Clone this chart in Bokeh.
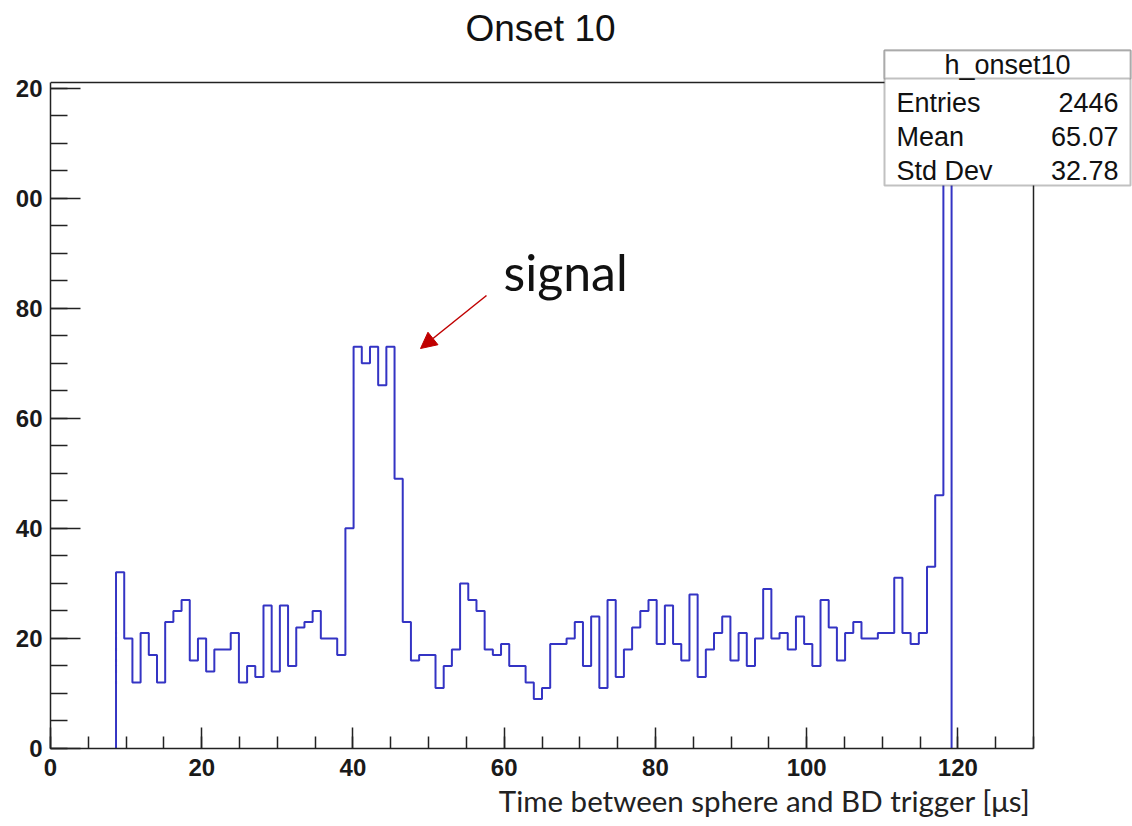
import numpy as np
from bokeh.plotting import figure
from bokeh.models import Range1d, FixedTicker, Label, BoxAnnotation, Arrow, NormalHead, Title
from bokeh.embed import file_html
from bokeh.resources import INLINE

# ---------------- data ----------------
n_bins = 120
x_min, x_max = 0.0, 130.0
y_max = 121.0
counts = ([0] * 8 +
          [32, 20, 12, 21, 17, 12, 23, 25, 27, 16, 20, 14, 18, 18, 21, 12, 15, 13, 26, 14] +
          [26, 15, 22, 23, 25, 20, 20, 17, 40, 73, 70, 73, 66, 73, 49, 23, 16, 17, 17, 11, 15] +
          [18, 30, 27, 25, 18, 17, 19, 15, 15, 12, 9, 11, 19, 19, 20, 23, 15, 24, 11, 27, 13] +
          [18, 22, 25, 27, 19, 26, 19, 16, 28, 13, 18, 21, 24, 16, 21, 15, 20, 29, 20, 21, 18] +
          [24, 19, 15, 27, 22, 16, 21, 23, 20, 20, 21, 21, 31, 21, 19, 21, 33, 46, 116] +
          [0] * 10)
x_ticks = [0, 20, 40, 60, 80, 100, 120]
x_minor = list(range(0, 131, 5))
y_ticks = [0, 20, 40, 60, 80, 100, 120]
y_tick_labels = ["0", "20", "40", "60", "80", "00", "20"]
y_minor = list(range(0, 121, 5))
hist_name = "h_onset10"
stat_names = ["Entries", "Mean", "Std Dev"]
stat_values = ["2446", "65.07", "32.78"]
title_text = "Onset 10"
x_title = "Time between sphere and BD trigger [\u03bcs]"
note_text = "signal"

# ---------------- geometry ----------------
W, H = 1132, 826
FL, FR, FT, FB = 50, 1033, 82, 748      # visible ROOT frame
PX_X = (FR - FL) / (x_max - x_min)
PX_Y = (FB - FT) / y_max

def dx(px):
    return x_min + (px - FL) / PX_X

def dy(py):
    return (FB - py) / PX_Y

# bokeh frame spans the whole canvas to the right and top, so the stats box and title fit inside
p = figure(width=W, height=H, x_range=Range1d(x_min, dx(W)), y_range=Range1d(0, dy(0)),
           output_backend="svg", toolbar_location=None,
           min_border_left=FL, min_border_right=0, min_border_top=0, min_border_bottom=H - FB)
p.background_fill_color = "white"
p.border_fill_color = "white"
p.outline_line_color = None
p.xgrid.visible = False
p.ygrid.visible = False

axis_color = "#222222"
for ax in (p.xaxis[0], p.yaxis[0]):
    ax.axis_line_color = axis_color
    ax.axis_line_width = 1.5
    ax.major_tick_line_color = axis_color
    ax.minor_tick_line_color = axis_color
    ax.major_tick_line_width = 1.5
    ax.minor_tick_line_width = 1.5
    ax.major_tick_out = 0
    ax.minor_tick_out = 0
    ax.major_label_text_font = "Liberation Sans"
    ax.major_label_text_font_size = "24px"
    ax.major_label_text_font_style = "bold"
    ax.major_label_text_color = "#1a1a1a"
    ax.major_label_standoff = 8

p.xaxis[0].bounds = (x_min, x_max)
p.xaxis[0].ticker = FixedTicker(ticks=x_ticks, minor_ticks=x_minor)
p.xaxis[0].major_tick_in = 21
p.xaxis[0].minor_tick_in = 12
p.xaxis[0].major_label_standoff = 10
p.yaxis[0].bounds = (0, y_max)
p.yaxis[0].ticker = FixedTicker(ticks=y_ticks, minor_ticks=y_minor)
p.yaxis[0].major_tick_in = 30
p.yaxis[0].minor_tick_in = 17
p.yaxis[0].major_label_overrides = {t: s for t, s in zip(y_ticks, y_tick_labels)}

# x axis title, right-aligned at the end of the ROOT frame
p.add_layout(Title(text=x_title, align="right", offset=W - 1030, standoff=8,
                   vertical_align="top",
                   text_font="Lato", text_font_style="normal", text_font_size="29.5px",
                   text_color="#222222"), "below")

# ---------------- frame lines (top and right of ROOT pad frame) ----------------
p.line(x=[x_min, x_max, x_max], y=[y_max, y_max, 0],
       line_color=axis_color, line_width=1.5)

# ---------------- histogram outline ----------------
edges = np.linspace(x_min, x_max, n_bins + 1)
nz = [i for i, c in enumerate(counts) if c > 0]
i0, i1 = nz[0], nz[-1]
sx = [edges[i0]] + list(edges[i0:i1 + 2])
sy = [0] + counts[i0:i1 + 1] + [0]
p.step(x=sx, y=sy, mode="after", line_color="#3434c4", line_width=2)

# ---------------- title ----------------
p.add_layout(Label(x=dx(540), y=dy(28), text=title_text, text_align="center",
                   text_baseline="middle", text_font="Liberation Sans", text_font_size="37px",
                   text_color="#111111"))

# ---------------- annotation ----------------
p.add_layout(Label(x=dx(503), y=dy(271), text=note_text, text_align="left",
                   text_baseline="middle", text_font="Lato", text_font_size="50px",
                   text_color="#111111"))
p.add_layout(Arrow(x_start=dx(486), y_start=dy(295), x_end=dx(420), y_end=dy(348),
                   line_color="#c00000", line_width=1.5,
                   end=NormalHead(size=16, fill_color="#c00000", line_color="#c00000")))

# ---------------- stats box ----------------
SL, SR, ST, SB, SH = 884, 1130, 50, 185, 78
p.add_layout(BoxAnnotation(left=dx(SL), right=dx(SR), top=dy(ST), bottom=dy(SB),
                           fill_color="white", fill_alpha=1.0, line_color="#333333", line_width=2,
                           level="overlay"))
p.add_layout(BoxAnnotation(left=dx(SL), right=dx(SR), top=dy(ST), bottom=dy(SH),
                           fill_color="white", fill_alpha=1.0, line_color="#333333", line_width=2,
                           level="overlay"))
p.add_layout(Label(x=dx((SL + SR) / 2), y=dy(64), text=hist_name, text_align="center",
                   text_baseline="middle", text_font="Liberation Sans", text_font_size="27px",
                   text_color="#111111", level="overlay"))
row_y = [102, 136, 170]
for name, val, ry in zip(stat_names, stat_values, row_y):
    p.add_layout(Label(x=dx(896), y=dy(ry), text=name, text_align="left",
                       text_baseline="middle", text_font="Liberation Sans", text_font_size="27px",
                       text_color="#111111", level="overlay"))
    p.add_layout(Label(x=dx(1118), y=dy(ry), text=val, text_align="right",
                       text_baseline="middle", text_font="Liberation Sans", text_font_size="27px",
                       text_color="#111111", level="overlay"))

open("out.html", "w").write(file_html(p, INLINE))
